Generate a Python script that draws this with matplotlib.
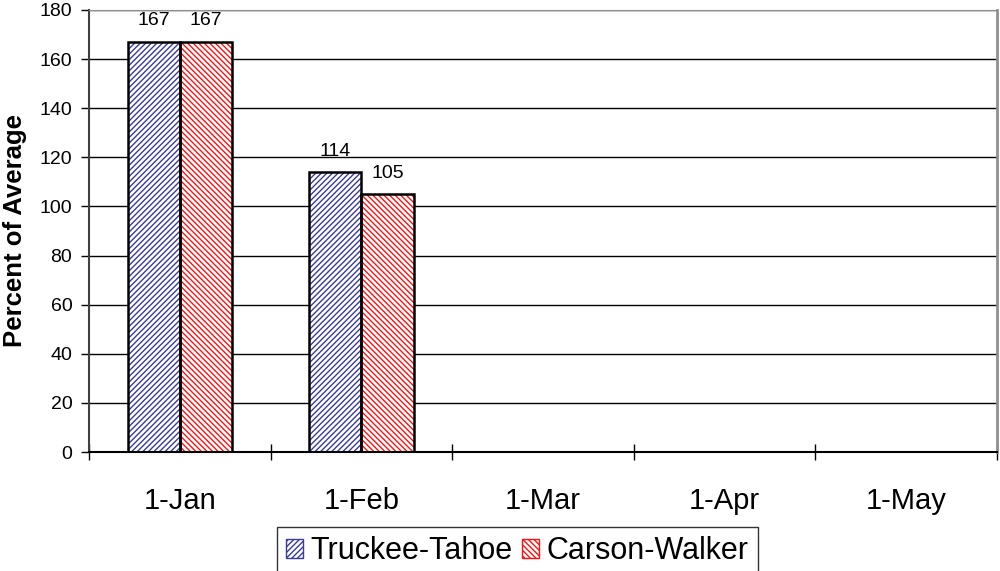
import matplotlib.pyplot as plt
import numpy as np
from matplotlib.patches import Patch

# data
dates = ['1-Jan', '1-Feb', '1-Mar', '1-Apr', '1-May']
truckee = [167, 114, None, None, None]
carson = [167, 105, None, None, None]
series = ['Truckee-Tahoe', 'Carson-Walker']

plt.rcParams['font.family'] = ['Liberation Sans', 'DejaVu Sans']
plt.rcParams['hatch.linewidth'] = 1.0

fig = plt.figure(figsize=(10, 5.71), dpi=100)
ax = fig.add_axes([0.089, 0.2084, 0.908, 0.7741])

x = np.arange(len(dates))
w = 0.287

def bars(vals, offset, color, hatch):
    xs = [x[i] + offset for i, v in enumerate(vals) if v is not None]
    ys = [v for v in vals if v is not None]
    ax.bar(xs, ys, w, color='white', edgecolor=color, hatch=hatch, linewidth=0, zorder=2)
    ax.bar(xs, ys, w, color='none', edgecolor='black', linewidth=1.8, zorder=3)
    for xi, yi in zip(xs, ys):
        ax.annotate(str(yi), (xi, yi), xytext=(0, 9), textcoords='offset points',
                    ha='center', va='bottom', fontsize=14)

bars(truckee, -w / 2, '#3a3aa0', '//////')
bars(carson, w / 2, '#ff1010', '\\\\\\\\\\\\')

ax.set_xlim(-0.5, 4.5)
ax.set_ylim(0, 180)
ax.set_yticks(range(0, 181, 20))
ax.tick_params(axis='y', labelsize=14, direction='out', length=6, width=1, pad=6)
ax.yaxis.grid(True, color='black', linewidth=1)
ax.set_axisbelow(True)

ax.set_xticks(np.arange(-0.5, 5, 1))
ax.set_xticklabels([])
ax.tick_params(axis='x', direction='inout', length=12, width=1)
ax.set_xticks(x, minor=True)
ax.set_xticklabels(dates, minor=True, fontsize=21)
ax.tick_params(axis='x', which='minor', length=0, pad=25)

ax.set_ylabel('Percent of Average', fontsize=18.5, fontweight='bold', labelpad=9)

ax.spines['top'].set_color('#909090')
ax.spines['right'].set_color('#909090')
ax.spines['right'].set_linewidth(2)
ax.spines['left'].set_color('#404040')
ax.spines['left'].set_linewidth(1.5)
ax.spines['bottom'].set_linewidth(1.5)

handles = [
    Patch(facecolor='white', edgecolor='#3a3aa0', hatch='//////', label=series[0]),
    Patch(facecolor='white', edgecolor='#ff1010', hatch='\\\\\\\\\\\\', label=series[1]),
]
leg = fig.legend(handles=handles, loc='upper left', bbox_to_anchor=(0.277, 0.077),
                 ncol=2, fontsize=22, frameon=True, fancybox=False, edgecolor='black',
                 handlelength=0.55, handleheight=0.55, handletextpad=0.25,
                 columnspacing=0.3, borderpad=0.3, borderaxespad=0)
leg.get_frame().set_linewidth(1)

fig.savefig('out.png', dpi=100)
